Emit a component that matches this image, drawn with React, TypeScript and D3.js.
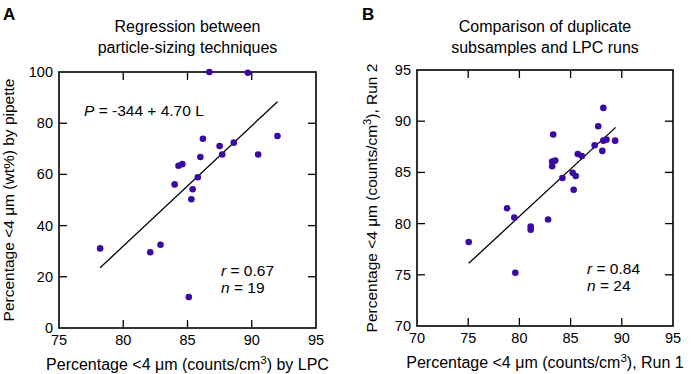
import * as d3 from "d3";

// Panel A: LPC vs pipette
const lpcA = [86.7, 89.7, 86.2, 87.5, 88.6, 92.0, 87.7, 90.5, 86.0, 84.3, 84.6, 85.8, 84.0, 85.4, 85.3, 78.2, 82.1, 82.9, 85.1];
const pipetteA = [100, 99.7, 73.9, 71.1, 72.4, 75.0, 67.8, 67.8, 66.8, 63.4, 64.0, 58.9, 56.1, 54.2, 50.3, 31.1, 29.6, 32.5, 12.1];
const xTicksA = [75, 80, 85, 90, 95];
const yTicksA = [0, 20, 40, 60, 80, 100];

// Panel B: run 1 vs run 2
const run1B = [75.05, 78.8, 79.5, 79.6, 81.1, 81.1, 82.8, 83.3, 83.2, 83.2, 83.5, 84.2, 85.2, 85.5, 85.3, 85.7, 86.1, 87.35, 87.7, 88.2, 88.1, 88.2, 88.5, 89.35];
const run2B = [78.2, 81.5, 80.6, 75.2, 79.7, 79.4, 80.4, 88.7, 86.05, 85.6, 86.15, 84.45, 84.97, 84.65, 83.3, 86.8, 86.6, 87.65, 89.5, 91.3, 87.1, 88.1, 88.2, 88.1];
const xTicksB = [70, 75, 80, 85, 90, 95];
const yTicksB = [70, 75, 80, 85, 90, 95];

const DOT = "#3a0aa3";
const FONT = "Liberation Sans, Arial, Helvetica, sans-serif";
const TICK = 8;

type PanelProps = {
  letter: string;
  letterX: number;
  title: string[];
  box: { left: number; right: number; top: number; bottom: number };
  xDomain: [number, number];
  yDomain: [number, number];
  xTicks: number[];
  yTicks: number[];
  xs: number[];
  ys: number[];
  fit: { a: number; b: number; from: number; to: number };
  xLabel: [string, string];
  yLabel: [string, string];
  yLabelX: number;
  eq?: string;
  r: string;
  n: string;
  statsX: number;
};

const Panel = (p: PanelProps) => {
  const x = d3.scaleLinear().domain(p.xDomain).range([p.box.left, p.box.right]);
  const y = d3.scaleLinear().domain(p.yDomain).range([p.box.bottom, p.box.top]);
  const cx = (p.box.left + p.box.right) / 2;
  const cy = (p.box.top + p.box.bottom) / 2;
  const fitPath = d3.line<number>().x(d => x(d)).y(d => y(p.fit.a + p.fit.b * d))([p.fit.from, p.fit.to]) || "";
  const inner = (v: number, arr: number[]) => v !== arr[0] && v !== arr[arr.length - 1];
  return (
    <g fontFamily={FONT} fill="#000">
      <text x={p.letterX} y={20} fontSize={17} fontWeight="bold">{p.letter}</text>
      {p.title.map((t, i) => (
        <text key={i} x={cx} y={32 + i * 20.5} fontSize={16} textAnchor="middle">{t}</text>
      ))}
      {/* ticks, inward on all sides */}
      {p.xTicks.filter(v => inner(v, p.xTicks)).map(v => (
        <g key={"x" + v} stroke="#000" strokeWidth={1.3}>
          <line x1={x(v)} x2={x(v)} y1={p.box.bottom} y2={p.box.bottom - TICK} />
          <line x1={x(v)} x2={x(v)} y1={p.box.top} y2={p.box.top + TICK} />
        </g>
      ))}
      {p.yTicks.filter(v => inner(v, p.yTicks)).map(v => (
        <g key={"y" + v} stroke="#000" strokeWidth={1.3}>
          <line x1={p.box.left} x2={p.box.left + TICK} y1={y(v)} y2={y(v)} />
          <line x1={p.box.right} x2={p.box.right - TICK} y1={y(v)} y2={y(v)} />
        </g>
      ))}
      {p.xTicks.map(v => (
        <text key={"xl" + v} x={x(v)} y={p.box.bottom + 17} fontSize={14.5} textAnchor="middle">{v}</text>
      ))}
      {p.yTicks.map(v => (
        <text key={"yl" + v} x={p.box.left - 6} y={y(v) + 5} fontSize={14.5} textAnchor="end">{v}</text>
      ))}
      <rect x={p.box.left} y={p.box.top} width={p.box.right - p.box.left} height={p.box.bottom - p.box.top}
        fill="none" stroke="#000" strokeWidth={1.6} />
      <path d={fitPath} stroke="#000" strokeWidth={1.3} fill="none" />
      {p.xs.map((v, i) => (
        <circle key={i} cx={x(v)} cy={y(p.ys[i])} r={3.3} fill={DOT} />
      ))}
      {p.eq && (
        <text x={x(p.xDomain[0]) + 25} y={y(p.yDomain[0] + (p.yDomain[1] - p.yDomain[0]) * 0.83)} fontSize={15.5}>
          <tspan fontStyle="italic">P</tspan>{p.eq}
        </text>
      )}
      <text x={p.statsX} y={p.box.bottom - 52} fontSize={15.5}>
        <tspan fontStyle="italic">r</tspan>{" = " + p.r}
      </text>
      <text x={p.statsX} y={p.box.bottom - 35} fontSize={15.5}>
        <tspan fontStyle="italic">n</tspan>{" = " + p.n}
      </text>
      <text x={cx} y={p.box.bottom + 42} fontSize={16} textAnchor="middle">
        {p.xLabel[0]}<tspan fontSize={11.5} dy={-6}>3</tspan><tspan dy={6}>{p.xLabel[1]}</tspan>
      </text>
      <text transform={`translate(${p.yLabelX},${cy}) rotate(-90)`} fontSize={15.5} textAnchor="middle">
        {p.yLabel[0]}
        {p.yLabel[1] !== "" && <><tspan fontSize={11} dy={-6}>3</tspan><tspan dy={6}>{p.yLabel[1]}</tspan></>}
      </text>
    </g>
  );
};

export default function App() {
  return (
    <svg width={692} height={374} style={{ position: "absolute", left: 0, top: 0, background: "#fff" }}>
      <Panel
        letter="A" letterX={3}
        title={["Regression between", "particle-sizing techniques"]}
        box={{ left: 59, right: 316, top: 72, bottom: 328 }}
        xDomain={[75, 95]} yDomain={[0, 100]}
        xTicks={xTicksA} yTicks={yTicksA}
        xs={lpcA} ys={pipetteA}
        fit={{ a: -344, b: 4.7, from: 78.2, to: 92.0 }}
        xLabel={["Percentage <4 μm (counts/cm", ") by LPC"]}
        yLabel={["Percentage <4 μm (wt%) by pipette", ""]}
        yLabelX={14}
        eq=" = -344 + 4.70 L"
        r="0.67" n="19" statsX={221}
      />
      <Panel
        letter="B" letterX={362}
        title={["Comparison of duplicate", "subsamples and LPC runs"]}
        box={{ left: 417, right: 673, top: 70, bottom: 326 }}
        xDomain={[70, 95]} yDomain={[70, 95]}
        xTicks={xTicksB} yTicks={yTicksB}
        xs={run1B} ys={run2B}
        fit={{ a: 6.7, b: 0.925, from: 75.05, to: 89.4 }}
        xLabel={["Percentage <4 μm (counts/cm", "), Run 1"]}
        yLabel={["Percentage <4 μm (counts/cm", "), Run 2"]}
        yLabelX={377}
        r="0.84" n="24" statsX={587}
      />
    </svg>
  );
}
